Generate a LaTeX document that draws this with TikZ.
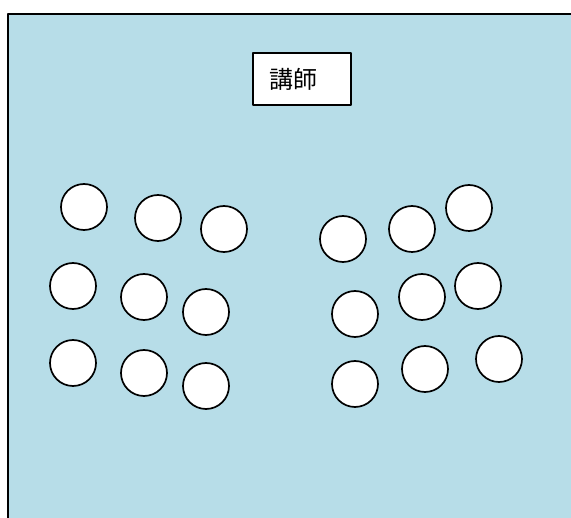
\documentclass[tikz,border=0pt]{standalone}
\usepackage{fontspec}
\usepackage{xcolor}
\newfontfamily\cjk{Noto Sans CJK JP}
\definecolor{roomblue}{HTML}{B7DDE8}

\begin{document}
\begin{tikzpicture}[x=1pt, y=-1pt, line join=round,
    seat/.style={circle, draw, line width=1.7pt, fill=white, minimum size=46pt, inner sep=0pt},
    lecturer/.style={draw, line width=1.3pt, fill=white, minimum height=52pt,
      text width=66pt, inner xsep=16pt, align=left, font=\cjk\fontsize{24}{28}\selectfont}]
  \useasboundingbox (0,0) rectangle (571,518);

  % --- THE ROOM ---
  \fill[roomblue] (8,14) rectangle (571,518);
  \draw[line width=2.7pt] (8,518) -- (8,14) -- (571,14);

  % --- LECTURER ---
  \node[lecturer] (lect) at (302,79) {講師};

  % --- LEFT GROUP OF SEATS ---
  \foreach \x/\y/\n in {84/207/1, 158/218/2, 224/229/3,
                        73/286/4, 144/297/5, 206/312/6,
                        73/363/7, 144/373/8, 206/386/9} {
    \node[seat] (l\n) at (\x,\y) {};
  }

  % --- RIGHT GROUP OF SEATS ---
  \foreach \x/\y/\n in {343/239/1, 412/229/2, 469/208/3,
                        355/314/4, 422/297/5, 478/286/6,
                        355/384/7, 425/369/8, 499/359/9} {
    \node[seat] (r\n) at (\x,\y) {};
  }
\end{tikzpicture}
\end{document}
